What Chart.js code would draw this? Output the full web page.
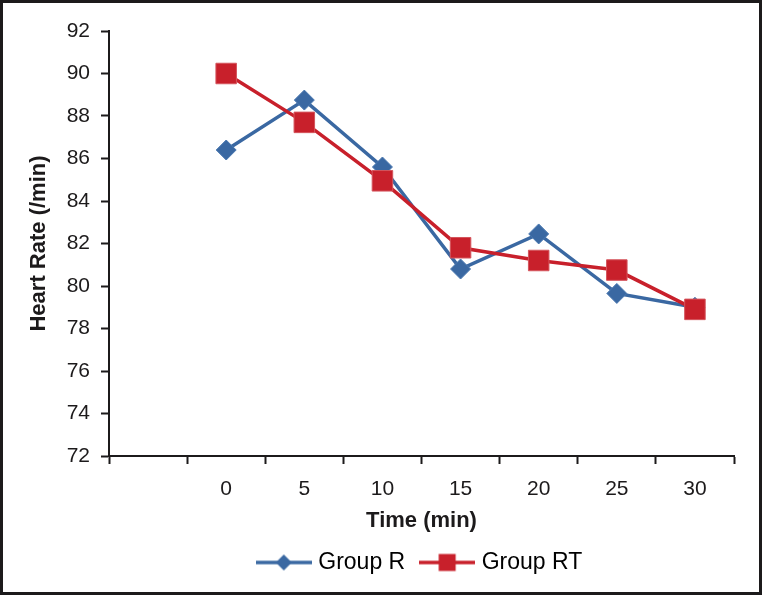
<!DOCTYPE html>
<html>
<head>
<meta charset="utf-8">
<script src="https://cdn.jsdelivr.net/npm/chart.js@4.4.1/dist/chart.umd.min.js"></script>
<style>
  html, body { margin: 0; padding: 0; background: #ffffff; }
  #wrap { width: 762px; height: 595px; position: relative; }
  canvas { display: block; }
</style>
</head>
<body>
<div id="wrap"><canvas id="c" width="762" height="595"></canvas></div>
<script>
// ---- data ----
const timeLabels = ['', '0', '5', '10', '15', '20', '25', '30'];
const groupR  = [null, 86.4, 88.75, 85.6, 80.8, 82.45, 79.65, 79.0];
const groupRT = [null, 90.0, 87.7, 84.95, 81.8, 81.2, 80.75, 78.9];
const seriesNames = ['Group R', 'Group RT'];
const yMin = 72, yMax = 92, yStep = 2;
const xTitle = 'Time (min)';
const yTitle = 'Heart Rate (/min)';

const FONT = "'Liberation Sans', Arial, Helvetica, sans-serif";
const BLUE = '#3a68a2';
const RED = '#c8202b';
const INK = '#1c1a1b';

Chart.defaults.font.family = FONT;
Chart.defaults.color = INK;

function legendIcon(kind) {
  const c = document.createElement('canvas');
  c.width = 56; c.height = 22;
  const g = c.getContext('2d');
  const color = kind === 'diamond' ? BLUE : RED;
  g.strokeStyle = color; g.lineWidth = 3.5;
  g.beginPath(); g.moveTo(0, 11); g.lineTo(56, 11); g.stroke();
  g.fillStyle = color;
  if (kind === 'diamond') {
    const r = 8;
    g.beginPath();
    g.moveTo(28 - r, 11); g.lineTo(28, 11 - r); g.lineTo(28 + r, 11); g.lineTo(28, 11 + r);
    g.closePath(); g.fill();
  } else {
    g.fillRect(28 - 8.5, 11 - 8.5, 17, 17);
  }
  return c;
}
const icons = [legendIcon('diamond'), legendIcon('square')];

const borderPlugin = {
  id: 'frame',
  afterDraw(chart) {
    const ctx = chart.ctx;
    ctx.save();
    ctx.strokeStyle = INK;
    ctx.lineWidth = 3;
    ctx.strokeRect(1.5, 1.5, chart.width - 3, chart.height - 3);
    ctx.restore();
  }
};

new Chart(document.getElementById('c'), {
  type: 'line',
  data: {
    labels: timeLabels,
    datasets: [
      {
        label: seriesNames[0],
        data: groupR,
        borderColor: BLUE,
        backgroundColor: BLUE,
        borderWidth: 3.5,
        pointStyle: 'rectRot',
        pointRadius: 10,
        pointHoverRadius: 10,
        pointBorderWidth: 1,
        pointBorderColor: '#4a78b0',
        pointBackgroundColor: BLUE,
        tension: 0,
        order: 1
      },
      {
        label: seriesNames[1],
        data: groupRT,
        borderColor: RED,
        backgroundColor: RED,
        borderWidth: 3.5,
        pointStyle: 'rect',
        pointRadius: 14.5,
        pointHoverRadius: 14.5,
        pointBorderWidth: 1,
        pointBorderColor: '#d4545c',
        pointBackgroundColor: RED,
        tension: 0,
        order: 0
      }
    ]
  },
  options: {
    responsive: false,
    animation: false,
    events: [],
    layout: { padding: { left: 20, top: 31, right: 28, bottom: 11 } },
    plugins: {
      tooltip: { enabled: false },
      title: { display: false },
      legend: {
        position: 'bottom',
        fullSize: false,
        labels: {
          usePointStyle: true,
          pointStyleWidth: 46,
          padding: 19,
          font: { size: 23, family: FONT },
          color: INK,
          generateLabels(chart) {
            return chart.data.datasets.map((ds, i) => ({
              text: ds.label,
              pointStyle: icons[i],
              fillStyle: ds.borderColor,
              strokeStyle: ds.borderColor,
              lineWidth: 0,
              hidden: false,
              datasetIndex: i
            }));
          }
        }
      }
    },
    scales: {
      x: {
        type: 'category',
        offset: true,
        grid: {
          offset: true,
          drawOnChartArea: false,
          drawTicks: true,
          tickLength: 8,
          tickWidth: 2,
          tickColor: INK,
          color: INK
        },
        border: { display: true, color: INK, width: 2 },
        ticks: { padding: 13, font: { size: 21 }, color: INK, maxRotation: 0, autoSkip: false },
        title: {
          display: true,
          text: xTitle,
          font: { size: 22, weight: 'bold', lineHeight: 1.0 },
          color: INK,
          padding: { top: 0, bottom: 0 }
        },
        afterFit(scale) { scale.height = 76; }
      },
      y: {
        min: yMin,
        max: yMax,
        ticks: { stepSize: yStep, padding: 11, font: { size: 21 }, color: INK },
        grid: {
          drawOnChartArea: false,
          drawTicks: true,
          tickLength: 8,
          tickWidth: 2,
          tickColor: INK,
          color: INK
        },
        border: { display: true, color: INK, width: 2 },
        title: {
          display: true,
          text: yTitle,
          font: { size: 22, weight: 'bold' },
          color: INK,
          padding: { top: 6, bottom: 0 }
        },
        afterFit(scale) { scale.width = 89; }
      }
    }
  },
  plugins: [borderPlugin]
});
</script>
</body>
</html>
